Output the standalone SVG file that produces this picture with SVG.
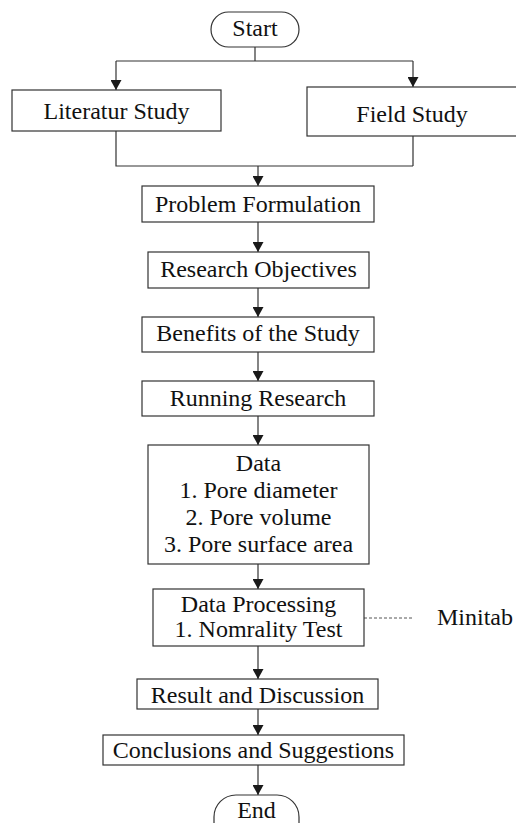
<svg xmlns="http://www.w3.org/2000/svg" width="516" height="823" viewBox="0 0 516 823">
<defs>
<marker id="ah" markerUnits="userSpaceOnUse" markerWidth="11" markerHeight="11" refX="10" refY="5.5" orient="auto">
<path d="M0,0 L10,5.5 L0,11 z" fill="#1a1a1a"/>
</marker>
<style>
.box{fill:#fff;stroke:#333;stroke-width:1.2}
.t{font-size:24px;fill:#111;text-anchor:middle}
.c{fill:none;stroke:#333;stroke-width:1.2}
.a{fill:none;stroke:#333;stroke-width:1.2;marker-end:url(#ah)}
.d{fill:none;stroke:#555;stroke-width:1;stroke-dasharray:3 2}
</style>
</defs>
<rect width="516" height="823" fill="#fff"/>
<g id="connectors">
<path class="c" d="M255,47 V61 M116,61 H413"/>
<path class="a" d="M116,61 V90"/>
<path class="a" d="M413,61 V87"/>
<path class="c" d="M116,131 V166 H413 M413,136 V166"/>
<path class="a" d="M258,166 V186"/>
<path class="a" d="M258,222 V252"/>
<path class="a" d="M258,288 V317"/>
<path class="a" d="M258,352 V381"/>
<path class="a" d="M258,416 V445"/>
<path class="a" d="M258,564 V589"/>
<path class="a" d="M258,646 V679"/>
<path class="a" d="M258,709 V735"/>
<path class="a" d="M258,765 V795"/>
<path class="d" d="M364,618 H414"/>
</g>
<g font-family="Liberation Serif, Times New Roman, DejaVu Serif, serif">
<g id="start"><rect class="box" x="211" y="12" width="88" height="35" rx="17.5"/><text class="t" x="255" y="36">Start</text></g>
<g id="literatur"><rect class="box" x="12" y="90" width="209" height="41"/><text class="t" x="116.5" y="119">Literatur Study</text></g>
<g id="field"><rect class="box" x="307" y="87" width="220" height="49"/><text class="t" x="412" y="122">Field Study</text></g>
<g id="problem"><rect class="box" x="142" y="186" width="232" height="36"/><text class="t" x="258" y="212">Problem Formulation</text></g>
<g id="objectives"><rect class="box" x="148" y="252" width="221" height="36"/><text class="t" x="258.5" y="277">Research Objectives</text></g>
<g id="benefits"><rect class="box" x="142" y="317" width="232" height="35"/><text class="t" x="258" y="341">Benefits of the Study</text></g>
<g id="running"><rect class="box" x="142" y="381" width="232" height="35"/><text class="t" x="258" y="406">Running Research</text></g>
<g id="data"><rect class="box" x="148" y="445" width="221" height="119"/>
<text class="t" x="258.5" y="471">Data</text>
<text class="t" x="258.5" y="498">1. Pore diameter</text>
<text class="t" x="258.5" y="525">2. Pore volume</text>
<text class="t" x="258.5" y="552">3. Pore surface area</text></g>
<g id="processing"><rect class="box" x="153" y="589" width="211" height="57"/>
<text class="t" x="258.5" y="612">Data Processing</text>
<text class="t" x="258.5" y="637">1. Nomrality Test</text></g>
<g id="minitab"><text class="t" x="475" y="625">Minitab</text></g>
<g id="result"><rect class="box" x="137" y="679" width="241" height="30"/><text class="t" x="257.5" y="703">Result and Discussion</text></g>
<g id="conclusions"><rect class="box" x="103" y="735" width="301" height="30"/><text class="t" x="253.5" y="758">Conclusions and Suggestions</text></g>
<g id="end"><rect class="box" x="214" y="795" width="85" height="50" rx="22"/><text class="t" x="256.5" y="818">End</text></g>
</g>
</svg>
